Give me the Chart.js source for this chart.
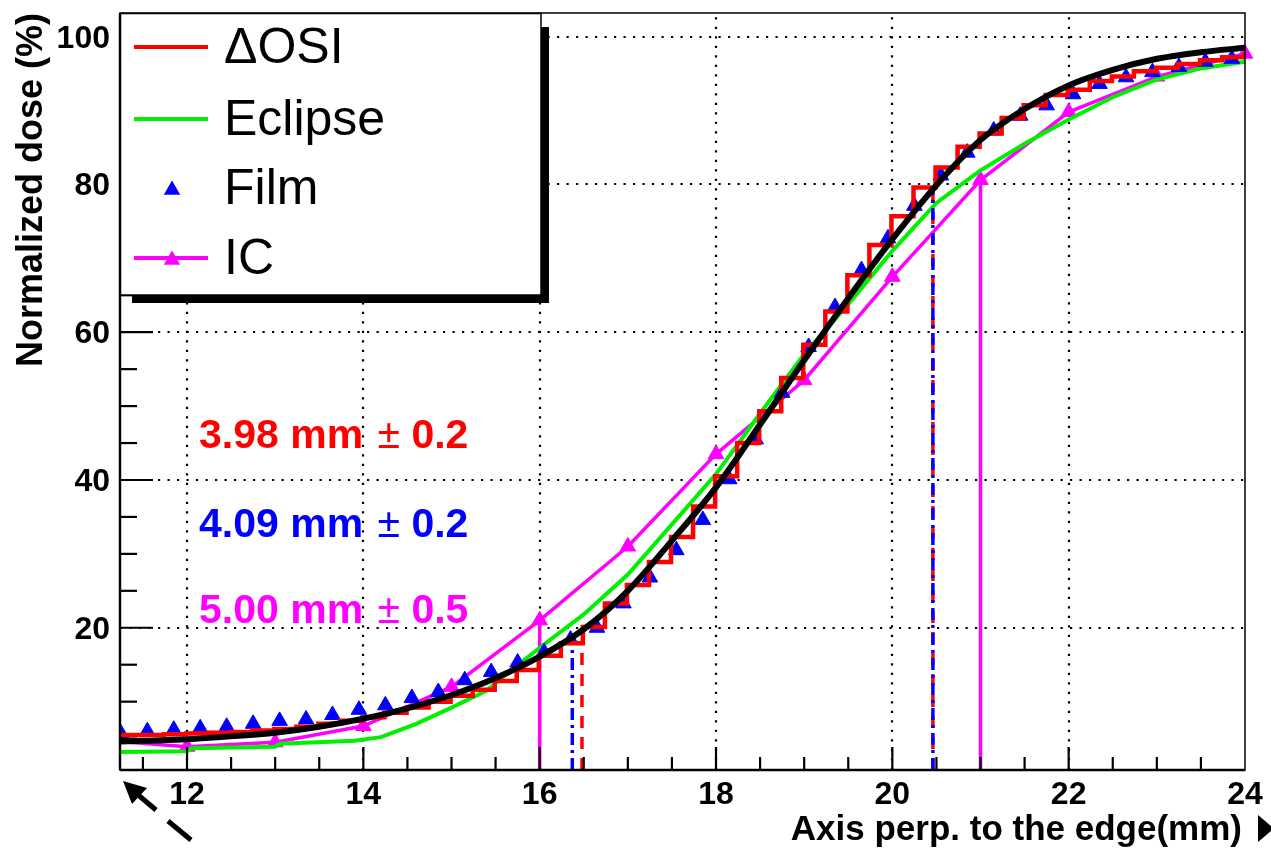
<!DOCTYPE html>
<html>
<head>
<meta charset="utf-8">
<title>Penumbra profiles</title>
<script src="https://cdn.jsdelivr.net/npm/chart.js@4.4.1/dist/chart.umd.min.js"></script>
<style>
  html, body { margin: 0; padding: 0; background: #fff; }
  canvas { display: block; }
</style>
</head>
<body>
<canvas id="profile" width="1271" height="851"></canvas>
<script>
// === Axis ranges and tick labels ===
const xMin = 11.24, xMax = 24;
const yMin = 0.75, yMax = 103.2;
const xTickLabels = [12, 14, 16, 18, 20, 22, 24];
const yTickLabels = [20, 40, 60, 80, 100];

// === ΔOSI: 0.25 mm histogram, left bin edges ===
const osiEdges = [11.24, 11.49, 11.74, 11.99, 12.24, 12.49, 12.74, 12.99, 13.24, 13.49,
  13.74, 13.99, 14.24, 14.49, 14.74, 14.99, 15.24, 15.49, 15.74, 15.99,
  16.24, 16.49, 16.74, 16.99, 17.24, 17.49, 17.74, 17.99, 18.24, 18.49,
  18.74, 18.99, 19.24, 19.49, 19.74, 19.99, 20.24, 20.49, 20.74, 20.99,
  21.24, 21.49, 21.74, 21.99, 22.24, 22.49, 22.74, 22.99, 23.24, 23.49,
  23.74, 23.99];
const osiDose = [5.5, 5.5, 5.6, 5.7, 5.8, 5.9, 6.1, 6.3, 6.6, 7.0,
  7.4, 7.9, 8.5, 9.2, 10.0, 10.8, 11.6, 12.8, 14.3, 16.2,
  17.9, 20.1, 23.3, 25.8, 28.9, 32.3, 36.4, 40.5, 45.0, 49.3,
  53.8, 58.3, 62.8, 67.7, 71.8, 75.7, 79.6, 82.3, 85.1, 86.9,
  89.0, 90.7, 92.1, 92.8, 94.0, 94.6, 95.3, 95.8, 96.3, 96.8,
  97.2, 97.5];

// === Eclipse (TPS) ===
const eclipseX = [11.24, 12.0, 12.05, 13.0, 13.05, 13.9, 14.2, 14.6, 15.0, 15.4, 15.6, 16.0,
  16.5, 17.0, 17.5, 18.0, 18.5, 19.0, 19.5, 20.0, 20.5, 21.0, 21.5, 22.0, 22.5, 23.0, 23.5, 24.0];
const eclipseDose = [3.2, 3.3, 3.7, 3.9, 4.3, 4.7, 5.2, 7.0, 9.2, 11.5, 13.5, 17.3,
  21.8, 27.2, 34.0, 40.8, 49.0, 57.0, 63.8, 71.0, 77.5, 81.9, 85.5, 88.8, 91.8, 94.2, 95.7, 96.6];

// === Film ===
const filmX = [11.25, 11.55, 11.85, 12.15, 12.45, 12.75, 13.05, 13.35, 13.65, 13.95,
  14.25, 14.55, 14.85, 15.15, 15.45, 15.75, 16.05, 16.35, 16.65, 16.95,
  17.25, 17.55, 17.85, 18.15, 18.45, 18.75, 19.05, 19.35, 19.65, 19.95,
  20.25, 20.55, 20.85, 21.15, 21.45, 21.75, 22.05, 22.35, 22.65, 22.95,
  23.25, 23.55, 23.85];
const filmDose = [5.7, 6.0, 6.2, 6.4, 6.6, 7.0, 7.4, 7.6, 8.2, 8.9,
  9.5, 10.5, 11.3, 12.9, 14.0, 15.3, 16.7, 18.4, 20.0, 23.3,
  26.8, 30.5, 34.6, 40.1, 45.5, 51.8, 58.0, 63.4, 68.4, 72.7,
  77.1, 81.2, 84.3, 87.3, 89.3, 90.7, 92.2, 93.6, 94.5, 95.2,
  95.9, 96.6, 97.0];

// === Ionization chamber ===
const icX = [11, 12, 13, 14, 15, 16, 17, 18, 19, 20, 21, 22, 23, 24];
const icDose = [4.8, 3.9, 4.5, 6.7, 12.0, 21.0, 31.0, 43.5, 53.5, 67.5, 80.6, 89.8, 94.6, 97.7];

// === Smooth fit through the ΔOSI profile ===
const fitX = [11.24, 11.5, 12, 12.5, 13, 13.5, 14, 14.5, 15, 15.5, 16, 16.5, 17, 17.5,
  18, 18.5, 19, 19.5, 20, 20.5, 21, 21.5, 22, 22.5, 23, 23.5, 24];
const fitDose = [4.6, 4.7, 4.9, 5.3, 5.8, 6.6, 7.7, 9.1, 10.9, 13.2, 16.1, 19.8, 25.0, 31.8,
  39.0, 47.5, 56.2, 64.6, 72.6, 79.9, 86.0, 90.2, 93.4, 95.5, 97.0, 97.9, 98.5];

// === 20%-80% penumbra markers ===
const osiPenumbraX = [16.48, 20.46], osiPenumbraTop = [17.6, 79.5];
const filmPenumbraX = [16.37, 20.46], filmPenumbraTop = [17.0, 79.5];
const icPenumbraX = [16.0, 21.0], icPenumbraTop = [21.4, 80.6];

// === Text ===
const seriesNames = ["\u0394OSI", "Eclipse", "Film", "IC"];
const penumbraText = [["3.98 mm", "0.2"], ["4.09 mm", "0.2"], ["5.00 mm", "0.5"]];
const xTitle = "Axis perp. to the edge(mm)";
const yTitle = "Normalized dose (%)";

const RED = "#ff0000", GREEN = "#00f000", BLUE = "#0000ff", MAGENTA = "#ff00ff";
const FONT = "'Liberation Sans', Arial, Helvetica, sans-serif";

const toPoints = (xs, ys) => xs.map((x, i) => ({ x, y: ys[i] }));

// histogram: every edge holds its value until the next edge
const osiPoints = toPoints(osiEdges, osiDose);
osiPoints.push({ x: xMax, y: osiDose[osiDose.length - 1] });

// vertical lines from the axis up to the penumbra level
function penumbraLines(xs, tops, color, dash) {
  return xs.map((x, i) => ({
    data: [{ x, y: yMin }, { x, y: tops[i] }],
    borderColor: color,
    borderWidth: 3.5,
    borderDash: dash,
    pointRadius: 0
  }));
}

function strokeLine(ctx, x1, y1, x2, y2) {
  ctx.beginPath();
  ctx.moveTo(x1, y1);
  ctx.lineTo(x2, y2);
  ctx.stroke();
}

function triangle(ctx, cx, cy, r) {
  ctx.beginPath();
  ctx.moveTo(cx, cy - r);
  ctx.lineTo(cx + r * 0.866, cy + r * 0.5);
  ctx.lineTo(cx - r * 0.866, cy + r * 0.5);
  ctx.closePath();
  ctx.fill();
}

// === Frame, ticks, grid, legend and labels in ROOT style ===
const rootStyle = {
  id: "rootStyle",
  beforeDraw(chart) {
    const ctx = chart.ctx;
    ctx.save();
    ctx.fillStyle = "#fff";
    ctx.fillRect(0, 0, chart.width, chart.height);
    ctx.restore();
  },
  beforeDatasetsDraw(chart) {
    const { ctx, chartArea: a, scales: { x, y } } = chart;
    ctx.save();
    ctx.strokeStyle = "#000";
    ctx.lineWidth = 2.2;
    ctx.setLineDash([2.2, 7.3]);
    xTickLabels.filter(v => v < xMax).forEach(v => {
      const px = Math.round(x.getPixelForValue(v));
      strokeLine(ctx, px, a.bottom, px, a.top);
    });
    yTickLabels.forEach(v => {
      const py = Math.round(y.getPixelForValue(v));
      strokeLine(ctx, a.left, py, a.right, py);
    });
    ctx.restore();
  },
  afterDatasetsDraw(chart) {
    const { ctx, chartArea: a, scales: { x, y } } = chart;
    ctx.save();
    ctx.strokeStyle = "#000";
    ctx.fillStyle = "#000";

    // frame
    ctx.lineWidth = 1.5;
    ctx.strokeRect(a.left, a.top, a.right - a.left, a.bottom - a.top);
    ctx.lineWidth = 2.4;
    strokeLine(ctx, a.left, a.top, a.left, a.bottom);
    strokeLine(ctx, a.left, a.bottom, a.right, a.bottom);

    // ticks pointing into the frame
    ctx.lineWidth = 2.2;
    for (let v = 11.5; v < xMax; v += 0.5) {
      const px = x.getPixelForValue(v);
      const major = v % 2 === 0;
      strokeLine(ctx, px, a.bottom, px, a.bottom - (major ? 23 : 13));
    }
    for (let v = 5; v < yMax; v += 5) {
      const py = y.getPixelForValue(v);
      const major = v % 20 === 0;
      strokeLine(ctx, a.left, py, a.left + (major ? 33 : 17), py);
    }

    // tick labels
    ctx.font = "bold 32px " + FONT;
    ctx.textAlign = "center";
    ctx.textBaseline = "alphabetic";
    xTickLabels.forEach(v => ctx.fillText(String(v), x.getPixelForValue(v), 804));
    ctx.textAlign = "right";
    yTickLabels.forEach(v => ctx.fillText(String(v), 110, y.getPixelForValue(v) + 11));

    // axis titles
    ctx.font = "bold 35px " + FONT;
    ctx.textAlign = "right";
    ctx.fillText(xTitle, a.right - 3, 840);
    ctx.save();
    ctx.translate(42, 13);
    ctx.rotate(-Math.PI / 2);
    ctx.font = "bold 36px " + FONT;
    ctx.fillText(yTitle, 0, 0);
    ctx.restore();

    // arrow heads next to the axes
    ctx.beginPath();
    ctx.moveTo(1258, 815);
    ctx.lineTo(1274, 828.5);
    ctx.lineTo(1258, 842);
    ctx.closePath();
    ctx.fill();

    ctx.lineWidth = 5;
    ctx.beginPath();
    ctx.moveTo(123, 781);
    ctx.lineTo(147, 788);
    ctx.lineTo(132, 804);
    ctx.closePath();
    ctx.fill();
    strokeLine(ctx, 137, 794, 156, 810);
    strokeLine(ctx, 168, 821, 191, 840);

    // penumbra widths
    const colors = [RED, BLUE, MAGENTA];
    const baselines = [448, 537, 623];
    penumbraText.forEach(([lead, err], i) => {
      let px = 199;
      ctx.fillStyle = colors[i];
      ctx.textAlign = "left";
      ctx.font = "bold 41px " + FONT;
      ctx.fillText(lead + " ", px, baselines[i]);
      px += ctx.measureText(lead + " ").width + 3;
      ctx.font = "41px " + FONT;
      ctx.fillText("\u00b1", px, baselines[i]);
      px += ctx.measureText("\u00b1").width;
      ctx.font = "bold 41px " + FONT;
      ctx.fillText(" " + err, px, baselines[i]);
    });

    // legend box with shadow
    ctx.fillStyle = "#000";
    ctx.fillRect(132, 295, 417, 8);
    ctx.fillRect(541, 27, 8, 276);
    ctx.fillStyle = "#fff";
    ctx.fillRect(120, 13, 421, 282);
    ctx.lineWidth = 1.5;
    ctx.strokeStyle = "#000";
    ctx.strokeRect(120.5, 13.5, 420.5, 281.5);

    const rows = [63, 135, 204, 274];
    const sampleColors = [RED, GREEN, BLUE, MAGENTA];
    ctx.lineWidth = 4;
    rows.forEach((base, i) => {
      const my = base - 16;
      ctx.strokeStyle = sampleColors[i];
      ctx.fillStyle = sampleColors[i];
      if (i !== 2) strokeLine(ctx, 134, my, 208, my);
      if (i >= 2) triangle(ctx, 172, my + 2, 9.5);
      ctx.fillStyle = "#000";
      ctx.font = "50px " + FONT;
      ctx.textAlign = "left";
      ctx.fillText(seriesNames[i], 224, base);
    });

    ctx.restore();
  }
};

new Chart(document.getElementById("profile"), {
  type: "line",
  data: {
    datasets: [
      {
        label: "fit",
        data: toPoints(fitX, fitDose),
        borderColor: "#000",
        borderWidth: 6,
        cubicInterpolationMode: "monotone",
        pointRadius: 0
      },
      {
        label: seriesNames[0],
        data: osiPoints,
        borderColor: RED,
        borderWidth: 4.5,
        stepped: "before",
        pointRadius: 0
      },
      {
        label: seriesNames[2],
        data: toPoints(filmX, filmDose),
        showLine: false,
        pointStyle: "triangle",
        pointRadius: 9,
        pointBackgroundColor: BLUE,
        pointBorderColor: BLUE,
        pointBorderWidth: 1
      },
      ...penumbraLines(filmPenumbraX, filmPenumbraTop, BLUE, [12, 5, 3, 5]),
      ...penumbraLines(osiPenumbraX, osiPenumbraTop, RED, [12, 9]),
      {
        label: seriesNames[1],
        data: toPoints(eclipseX, eclipseDose),
        borderColor: GREEN,
        borderWidth: 4,
        pointRadius: 0
      },
      {
        label: seriesNames[3],
        data: toPoints(icX, icDose),
        borderColor: MAGENTA,
        borderWidth: 3.5,
        pointStyle: "triangle",
        pointRadius: 9,
        pointBackgroundColor: MAGENTA,
        pointBorderColor: MAGENTA,
        pointBorderWidth: 1,
        clip: { left: 1, top: 10, right: 14, bottom: 1 }
      },
      ...penumbraLines(icPenumbraX, icPenumbraTop, MAGENTA, [])
    ]
  },
  options: {
    responsive: false,
    animation: false,
    events: [],
    layout: { padding: { left: 120, right: 26, top: 13, bottom: 81 } },
    scales: {
      x: { type: "linear", min: xMin, max: xMax, display: false },
      y: { type: "linear", min: yMin, max: yMax, display: false }
    },
    elements: { line: { tension: 0 } },
    plugins: {
      legend: { display: false },
      tooltip: { enabled: false }
    }
  },
  plugins: [rootStyle]
});
</script>
</body>
</html>
